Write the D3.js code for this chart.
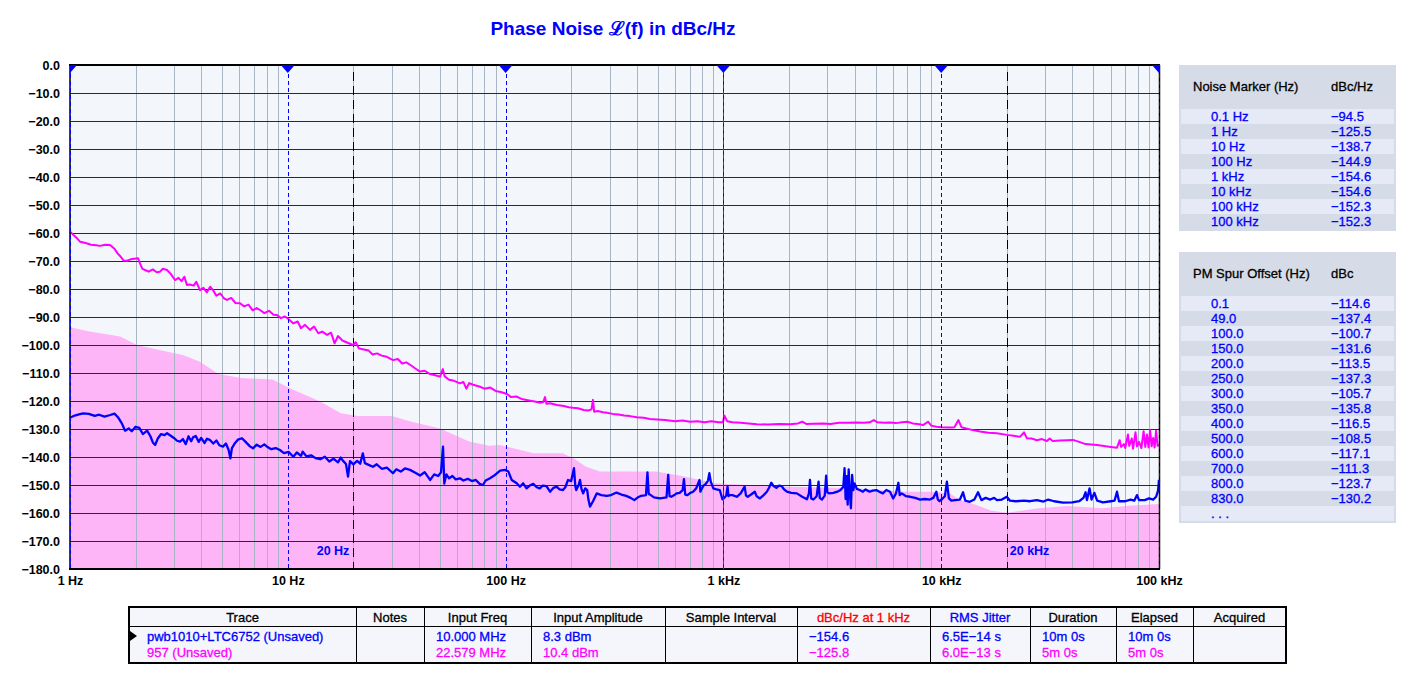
<!DOCTYPE html>
<html><head><meta charset="utf-8">
<script src="https://cdn.jsdelivr.net/npm/d3@7"></script>
<style>
body{margin:0;background:#fff;}
svg{display:block;font-family:"Liberation Sans",Arial,sans-serif;}
</style></head>
<body><svg id="c" width="1415" height="675"></svg>
<script>
// ---------- DATA ----------
const titleText = "Phase Noise \u2112(f) in dBc/Hz";
const xTickValues = [1, 10, 100, 1000, 10000, 100000];
const xTickLabels = ["1 Hz", "10 Hz", "100 Hz", "1 kHz", "10 kHz", "100 kHz"];
const yTickValues = [0, -10, -20, -30, -40, -50, -60, -70, -80, -90, -100, -110, -120, -130, -140, -150, -160, -170, -180];
const markerFreqs = [1, 10, 100, 1000, 10000, 100000];
const refFreqs = [20, 20000];
const refLabels = ["20 Hz", "20 kHz"];

// blue trace: pwb1010+LTC6752 [Hz, dBc/Hz]
const blueTrace = [
[1,-126],[1.05,-125.2],[1.1,-124.8],[1.15,-124.4],[1.22,-124.6],[1.3,-125.3],[1.36,-124.9],[1.44,-125.6],[1.53,-125],[1.6,-124.5],[1.66,-125.8],[1.73,-128],[1.79,-130.6],[1.86,-129.8],[1.92,-130.8],[2.0,-129.2],[2.08,-129.6],[2.16,-131.8],[2.26,-130.6],[2.34,-132.6],[2.4,-134.8],[2.46,-135.7],[2.53,-133.4],[2.62,-131.8],[2.72,-132.2],[2.79,-131.5],[2.9,-132.4],[3.0,-133.2],[3.1,-134.2],[3.2,-134.5],[3.3,-133.6],[3.4,-135.4],[3.5,-132.6],[3.6,-134.4],[3.67,-133],[3.78,-132.5],[3.9,-134.6],[4.0,-133.2],[4.15,-135],[4.25,-133.5],[4.39,-133.9],[4.55,-135.2],[4.7,-134.1],[4.85,-135.8],[5.04,-136.3],[5.2,-135.2],[5.35,-137.5],[5.45,-140.5],[5.54,-136.8],[5.7,-135.2],[5.9,-133.8],[6.16,-133.3],[6.4,-134.6],[6.7,-136.2],[6.92,-136.9],[7.2,-135.6],[7.5,-136.4],[7.8,-135.5],[8.03,-136.3],[8.4,-137.2],[8.8,-136.8],[9.2,-137.5],[9.6,-138.6],[10.1,-138.2],[10.6,-139.9],[11.0,-138.4],[11.5,-139.6],[11.7,-138.1],[12.2,-139.8],[12.8,-139.4],[13.4,-140.4],[14.1,-140.8],[14.8,-139.9],[15.5,-141.6],[16.2,-140.6],[17.0,-141.9],[17.5,-140.2],[17.9,-141.3],[18.5,-142.5],[18.9,-147],[19.3,-141.5],[20.0,-142.6],[20.8,-141.4],[21.5,-142.4],[22.1,-138.7],[22.6,-142.2],[23.5,-142.8],[24.6,-143.5],[25.6,-142.6],[27,-144.2],[28.5,-143.8],[30.4,-145.8],[31.5,-144.4],[33,-145.2],[34.5,-144.1],[36.4,-144.6],[38.5,-145.6],[40.5,-146.6],[42.5,-145.4],[45,-148.2],[47,-146.2],[49,-146.8],[50.5,-145.5],[51.6,-136.3],[52.3,-149.5],[53.5,-146.2],[55,-147.6],[57,-146.8],[59,-148],[61.7,-147.6],[64,-148.4],[67,-147.8],[70,-148.6],[73,-148.2],[76,-149.6],[78.7,-150],[81,-148.4],[84.8,-147.6],[88,-146.8],[92,-145.6],[94.4,-144.9],[99.3,-144.6],[103,-145.2],[106.7,-148.2],[112.5,-149.4],[116.4,-150.6],[120.4,-149.4],[124.8,-151.2],[129,-150.2],[134,-149.6],[139,-150.8],[143.5,-151.2],[148,-150.2],[154,-150.4],[160,-152.4],[166,-151],[171.6,-150.6],[177,-151.6],[183.4,-151.8],[188,-150.8],[193.5,-148.2],[200,-148.6],[206,-144],[209,-150.4],[211,-151.8],[216,-150.2],[219.6,-148.2],[223,-151.4],[227,-153],[232,-151.2],[237,-151.8],[240,-155.2],[244,-157.7],[252,-155.8],[262,-153],[275,-153.6],[291.6,-153.9],[305,-153.6],[323,-152.7],[340,-153.4],[358,-153.9],[375,-154.6],[390,-155.4],[405,-154.4],[418,-153.9],[435,-153.7],[441,-153.6],[448,-145.5],[454,-153.2],[464,-153.6],[480,-154.4],[511,-154.8],[530,-154.6],[548,-154.4],[558,-146.4],[566,-154],[577,-154.2],[595,-153.6],[610,-153],[630,-152.8],[650,-151.8],[659,-147.9],[668,-153.4],[684,-153.6],[705,-152.8],[726,-152.4],[750,-151.2],[777,-148.2],[784,-152.4],[790,-151.8],[811,-150.2],[830,-149.6],[850,-148.4],[862,-145.8],[875,-148.8],[899,-151.2],[930,-151.6],[962,-151.8],[990,-155.1],[1010,-154.6],[1030,-153.8],[1045,-150.6],[1055,-154],[1065,-153.6],[1100,-153.6],[1152,-154.2],[1200,-153],[1252,-150.6],[1270,-153.8],[1293,-154.2],[1340,-153.4],[1394,-152.4],[1420,-154],[1472,-154.8],[1530,-153.6],[1583,-152.4],[1620,-151],[1659,-149.2],[1700,-150.4],[1750,-151],[1800,-150.2],[1852,-150.4],[1900,-151.6],[1956,-152.4],[2050,-152.8],[2175,-153],[2300,-154.2],[2419,-155.1],[2470,-153],[2498,-148.2],[2530,-154.8],[2588,-155.2],[2680,-154],[2735,-148.8],[2770,-154.6],[2834,-155.2],[2920,-153.8],[2963,-146.7],[3000,-152.6],[3050,-153],[3200,-152.8],[3336,-152.4],[3450,-151.8],[3553,-150.6],[3600,-144],[3640,-155],[3680,-146.8],[3720,-157],[3760,-144.4],[3800,-152],[3850,-158.3],[3900,-146.4],[3950,-151.8],[4000,-149.4],[4100,-151.4],[4219,-151.8],[4370,-152.4],[4500,-151.6],[4687,-152.4],[4850,-152],[5034,-151.8],[5200,-152.4],[5395,-153],[5600,-151.8],[5821,-152.4],[6019,-154.8],[6200,-153],[6360,-149.2],[6450,-153.6],[6590,-153],[6900,-154],[7200,-154.2],[7600,-154.6],[8000,-155.2],[8400,-155],[8860,-155.2],[9200,-154.6],[9500,-152.4],[9650,-155.2],[9820,-155.8],[10100,-155],[10400,-154],[10620,-148.8],[10850,-154.8],[11130,-155.6],[11600,-155.4],[12190,-155.2],[12600,-152.6],[12900,-155.6],[13520,-156],[14200,-155.2],[14760,-152.6],[15300,-155.4],[16000,-154.6],[16800,-155.2],[17500,-154.6],[18040,-155.4],[19000,-155.2],[20000,-154.2],[20700,-155.6],[22000,-155.8],[24000,-155.6],[25580,-155.8],[27500,-155.4],[29500,-155.9],[31000,-155.2],[33000,-155.8],[36240,-156.3],[40000,-156.2],[43000,-155.8],[45000,-154.6],[46000,-152.6],[46700,-155.4],[48000,-151.2],[49000,-155.2],[50500,-152.8],[52000,-155.6],[55300,-156.2],[60000,-155.8],[62500,-155.6],[64130,-152.4],[65500,-155.8],[70000,-155.8],[74000,-155.2],[77000,-155.6],[79250,-153.6],[81000,-155.4],[86000,-155.4],[90000,-154.8],[94000,-155.2],[97000,-154.2],[99000,-152],[100000,-148.2]
];

// magenta trace: 957 [Hz, dBc/Hz]
const magentaTrace = [
[1,-59.5],[1.04,-60.8],[1.08,-62],[1.112,-63.1],[1.18,-63.6],[1.25,-64.2],[1.32,-64.4],[1.373,-64.6],[1.45,-64.2],[1.527,-64.3],[1.6,-65.6],[1.65,-67.2],[1.697,-68.2],[1.76,-69.8],[1.827,-69.9],[1.9,-69.4],[1.98,-69.2],[2.052,-69],[2.1,-71],[2.15,-72.8],[2.21,-73.2],[2.3,-73.8],[2.4,-73],[2.5,-74],[2.589,-73.8],[2.67,-72.8],[2.79,-73.2],[2.9,-74.6],[3.034,-76.8],[3.15,-76],[3.25,-77.2],[3.35,-75.6],[3.444,-78.6],[3.55,-78.4],[3.7,-78.8],[3.8,-77.4],[3.953,-80.4],[4.1,-79.6],[4.25,-81.2],[4.4,-79.2],[4.535,-80.4],[4.7,-82.4],[4.9,-81.6],[5.1,-83.4],[5.259,-83.9],[5.5,-83.2],[5.75,-85],[6.033,-85.1],[6.3,-86.2],[6.6,-85.6],[6.9,-87.6],[7.2,-86.8],[7.455,-87.5],[7.8,-88.6],[8.2,-87.8],[8.6,-89.2],[8.92,-89.3],[9.3,-90.4],[9.7,-89.8],[10.1,-90.8],[10.6,-92.3],[11.1,-91.6],[11.5,-94],[12,-92.8],[12.64,-94.6],[13.2,-93.4],[13.8,-95.8],[14.4,-95.2],[15.14,-96.4],[15.8,-95.6],[16.4,-99.4],[17,-96.8],[17.8,-98.4],[18.8,-99.2],[19.93,-100],[20.5,-99],[21.2,-101.2],[22.3,-101.6],[23.5,-102],[24.5,-103.4],[25.68,-103],[27,-103.8],[28.5,-104.2],[30.4,-105.4],[32,-105],[33.5,-106.6],[35,-106.2],[37,-107.4],[38.5,-108.4],[40.45,-109.5],[42.5,-109.2],[45,-110.4],[47.5,-110.8],[50,-111.3],[51.5,-108.6],[52.5,-111.2],[55,-112.4],[58,-112.8],[61.7,-113.7],[64,-113.2],[66,-115.6],[68,-113.6],[71,-114.2],[76.3,-114.9],[80,-115.6],[85,-115.2],[90,-116.4],[95,-116.8],[101.5,-117.5],[106,-118.6],[112,-118.4],[116.4,-119],[120.2,-119.4],[128,-119.8],[136,-120.2],[144,-120.6],[149,-120.4],[151.6,-118.6],[154,-121],[160,-120.8],[172.1,-121.4],[185,-121.8],[195,-122.2],[203.8,-122.4],[215,-122.6],[228,-123.2],[240,-123.4],[248,-123],[251.9,-119.6],[255,-123.8],[265,-123.6],[280,-124],[292.2,-124.2],[310,-124.6],[330,-124.8],[350,-125.2],[372.6,-125.4],[400,-125.8],[430,-126],[460,-126.4],[495.5,-126.6],[540,-126.8],[600,-127.2],[650,-127],[702.5,-127.4],[760,-127.2],[820,-127.6],[880,-127.2],[950,-127.6],[995.8,-127.6],[1010,-125.2],[1040,-127.2],[1100,-127.6],[1200,-127.8],[1300,-128],[1426,-128.3],[1600,-128.4],[1800,-128.2],[2022,-128.3],[2200,-128],[2300,-127.4],[2400,-128.2],[2600,-128.1],[2866,-128],[3100,-128.2],[3400,-127.8],[3700,-127.8],[4107,-127.7],[4400,-127.8],[4700,-127.6],[4900,-126.8],[5100,-127.6],[5500,-127.8],[5821,-127.7],[6200,-127.9],[6600,-127.6],[7000,-127.4],[7400,-128],[7800,-128.2],[8249,-128.6],[8700,-127.4],[9000,-128.8],[9500,-129.2],[10000,-129.4],[10970,-129.5],[11500,-129.4],[12000,-126.8],[12400,-129.4],[13000,-129.8],[14000,-130.4],[15070,-130.9],[16500,-131.3],[18000,-131.5],[20030,-132.1],[21500,-132.4],[23000,-132.8],[24000,-131.2],[24760,-133.3],[26000,-133.4],[27500,-134],[29000,-133.6],[30600,-134.3],[31500,-133.4],[32500,-134.3],[35000,-134.1],[38000,-134],[40270,-133.9],[43000,-134.6],[46000,-135.4],[51920,-135.7],[57000,-136.2],[60000,-136.4],[64130,-136.7],[66000,-134],[67000,-136.4],[69000,-135.4],[70000,-136.8],[72000,-132],[73000,-136],[75000,-133.4],[76000,-137],[78000,-131.2],[79250,-136.2],[81000,-134.6],[83000,-136.8],[85000,-130.8],[86500,-136.4],[88000,-132],[89500,-136.6],[91000,-130.4],[92500,-136.2],[94000,-133.2],[95500,-136.6],[97000,-130.6],[98500,-136],[100000,-135.7]
];

// pink shaded region upper edge [Hz, dBc/Hz]
const shadeEdge = [
[1,-93.7],[1.23,-95.2],[1.7,-97],[2.03,-100],[2.8,-102.4],[3.3,-103.6],[3.95,-106],[4.4,-108.4],[4.8,-110.4],[6.1,-111.8],[8.5,-112.3],[10.6,-116],[14.1,-120.2],[17.5,-124.4],[21,-125.4],[30,-125.4],[37,-127.4],[50,-129.8],[68,-134.5],[84,-136],[94,-135.7],[116,-137.4],[134,-138.7],[183,-138.7],[206,-140.5],[234,-143.5],[271,-145.2],[490,-145.2],[610,-146.4],[790,-148.2],[900,-149.4],[1300,-150],[2000,-150.6],[4000,-151.2],[6800,-152.4],[9000,-152.4],[10970,-153],[12190,-155.4],[14500,-157.1],[17000,-159.2],[20000,-159.9],[28000,-158.3],[38000,-157.5],[55000,-158.3],[70000,-157.5],[100000,-156.8]
];

// right-hand tables
const noiseMarkerLabels = ["0.1 Hz","1 Hz","10 Hz","100 Hz","1 kHz","10 kHz","100 kHz","100 kHz"];
const noiseMarkerValues = ["\u221294.5","\u2212125.5","\u2212138.7","\u2212144.9","\u2212154.6","\u2212154.6","\u2212152.3","\u2212152.3"];
const spurOffsets = ["0.1","49.0","100.0","150.0","200.0","250.0","300.0","350.0","400.0","500.0","600.0","700.0","800.0","830.0",". . ."];
const spurValues = ["\u2212114.6","\u2212137.4","\u2212100.7","\u2212131.6","\u2212113.5","\u2212137.3","\u2212105.7","\u2212135.8","\u2212116.5","\u2212108.5","\u2212117.1","\u2212111.3","\u2212123.7","\u2212130.2",""];

// bottom table
const tableHeaders = ["Trace","Notes","Input Freq","Input Amplitude","Sample Interval","dBc/Hz at 1 kHz","RMS Jitter","Duration","Elapsed","Acquired"];
const headerColors = ["#000","#000","#000","#000","#000","#ff0000","#0000ff","#000","#000","#000"];
const tableRows = [
  ["pwb1010+LTC6752 (Unsaved)","","10.000 MHz","8.3 dBm","","\u2212154.6","6.5E\u221214 s","10m 0s","10m 0s",""],
  ["957 (Unsaved)","","22.579 MHz","10.4 dBm","","\u2212125.8","6.0E\u221213 s","5m 0s","5m 0s",""]
];
const rowColors = ["#0000ff", "#ff00ff"];

// ---------- CHART ----------
const svg = d3.select("#c");
const L = 70, R = 1159, T = 65, B = 569;
const x = d3.scaleLog().domain([1, 100000]).range([L, R]);
const y = d3.scaleLinear().domain([0, -180]).range([T, B]);
const fmtMinus = s => s.replace("-", "\u2212");
const TXT = 13;
function heavy(sel, color) { return sel.attr("fill", color).attr("stroke", color).attr("stroke-width", 0.3); }

svg.append("text").attr("x", 613).attr("y", 35).attr("text-anchor", "middle")
  .attr("fill", "#0000ff").attr("font-size", 19).attr("font-weight", "bold").text(titleText);

// plot background
svg.append("rect").attr("x", L).attr("y", T).attr("width", R - L).attr("height", B - T).attr("fill", "#f3f6fb");

// shaded area
svg.append("path").datum(shadeEdge)
  .attr("d", d3.area().x(d => x(d[0])).y0(y(-180)).y1(d => y(d[1])))
  .attr("fill", "#fdb5f8");

// vertical minor grid
const minor = [];
for (let dec = 1; dec < 100000; dec *= 10) for (let m = 2; m <= 9; m++) minor.push(dec * m);
svg.append("g").selectAll("line").data(minor).join("line")
  .attr("x1", d => Math.round(x(d)) + 0.5).attr("x2", d => Math.round(x(d)) + 0.5)
  .attr("y1", T).attr("y2", B).attr("stroke", "#a9b4c4").attr("stroke-width", 1);

// horizontal grid
svg.append("g").selectAll("line").data(yTickValues.filter(v => v < 0 && v > -180)).join("line")
  .attr("x1", L).attr("x2", R).attr("y1", d => Math.round(y(d)) + 0.5).attr("y2", d => Math.round(y(d)) + 0.5)
  .attr("stroke", "#2a2a2a").attr("stroke-width", 1);

// reference (20 Hz / 20 kHz) dashed black lines
svg.append("g").selectAll("line").data(refFreqs).join("line")
  .attr("x1", d => Math.round(x(d)) + 0.5).attr("x2", d => Math.round(x(d)) + 0.5)
  .attr("y1", T + 7).attr("y2", B).attr("stroke", "#000").attr("stroke-width", 1)
  .attr("stroke-dasharray", "9,5");
svg.append("g").selectAll("text").data(refFreqs).join("text")
  .attr("x", (d, i) => i === 0 ? x(d) - 4 : x(d) + 3)
  .attr("y", 555).attr("text-anchor", (d, i) => i === 0 ? "end" : "start")
  .attr("fill", "#0000ff").attr("font-size", 12.5).attr("font-weight", "bold")
  .text((d, i) => refLabels[i]);

// traces
const line = d3.line().x(d => x(d[0])).y(d => y(d[1]));
svg.append("path").datum(magentaTrace).attr("d", line).attr("fill", "none")
  .attr("stroke", "#ff00ff").attr("stroke-width", 2).attr("stroke-linejoin", "round");
svg.append("path").datum(blueTrace).attr("d", line).attr("fill", "none")
  .attr("stroke", "#0000ff").attr("stroke-width", 2.3).attr("stroke-linejoin", "round");

// frame
svg.append("line").attr("x1", L).attr("x2", L).attr("y1", T).attr("y2", B).attr("stroke", "#000").attr("stroke-width", 1.5);
svg.append("line").attr("x1", R + 0.5).attr("x2", R + 0.5).attr("y1", T).attr("y2", B).attr("stroke", "#000").attr("stroke-width", 1.5);
svg.append("line").attr("x1", L - 1).attr("x2", R + 1).attr("y1", T).attr("y2", T).attr("stroke", "#000").attr("stroke-width", 2);
svg.append("line").attr("x1", L - 1).attr("x2", R + 1).attr("y1", B).attr("y2", B).attr("stroke", "#000").attr("stroke-width", 2);

// marker lines
const mk = svg.append("g");
markerFreqs.forEach(f => {
  const xx = Math.round(x(f)) + 0.5;
  mk.append("line").attr("x1", xx).attr("x2", xx).attr("y1", T + 2).attr("y2", B)
    .attr("stroke", "#0000ff").attr("stroke-width", 1).attr("stroke-dasharray", "4,3");
  if (f === 1000) {
    mk.append("line").attr("x1", xx).attr("x2", xx).attr("y1", T + 2).attr("y2", B)
      .attr("stroke", "#ff0000").attr("stroke-width", 1).attr("stroke-dasharray", "4,3").attr("stroke-dashoffset", 3.5);
  }
});
// marker triangles (clipped to plot)
svg.append("clipPath").attr("id", "pc").append("rect").attr("x", L).attr("y", T - 2).attr("width", R - L + 1).attr("height", 20);
svg.append("g").attr("clip-path", "url(#pc)").selectAll("path").data(markerFreqs).join("path")
  .attr("d", d => { const xx = x(d); return `M${xx - 7},${T}L${xx + 7},${T}L${xx},${T + 8}Z`; })
  .attr("fill", "#0000ff");

// axes
const yAxis = d3.axisLeft(y).tickValues(yTickValues).tickSize(0).tickPadding(0)
  .tickFormat(d => fmtMinus(d3.format(".1f")(d)));
const gy = svg.append("g").attr("transform", `translate(${L - 10},0)`).call(yAxis);
gy.select(".domain").remove();
gy.selectAll("text").attr("font-size", 12.5).attr("font-weight", "bold").attr("fill", "#000")
  .attr("font-family", "Liberation Sans, Arial, sans-serif");

const xAxis = d3.axisBottom(x).tickValues(xTickValues).tickSize(0).tickPadding(0)
  .tickFormat((d, i) => xTickLabels[i]);
const gx = svg.append("g").attr("transform", `translate(0,${B + 7})`).call(xAxis);
gx.select(".domain").remove();
gx.selectAll("text").attr("font-size", 12.5).attr("font-weight", "bold").attr("fill", "#000")
  .attr("font-family", "Liberation Sans, Arial, sans-serif");

// ---------- RIGHT TABLES ----------
function sideTable(top, height, h1, h2, labels, values) {
  const g = svg.append("g");
  g.append("rect").attr("x", 1179).attr("y", top).attr("width", 217).attr("height", height).attr("fill", "#d6dce7");
  heavy(g.append("text").attr("x", 1193).attr("y", top + 26).attr("font-size", TXT).text(h1), "#000");
  heavy(g.append("text").attr("x", 1331).attr("y", top + 26).attr("font-size", TXT).text(h2), "#000");
  const r0 = top + 44;
  labels.forEach((lab, i) => {
    if (i % 2 === 0) g.append("rect").attr("x", 1181).attr("y", r0 + i * 15).attr("width", 213).attr("height", 15).attr("fill", "#e5eaf6");
    heavy(g.append("text").attr("x", 1211).attr("y", r0 + i * 15 + 12).attr("font-size", TXT).text(lab), "#0000ff");
    heavy(g.append("text").attr("x", 1331).attr("y", r0 + i * 15 + 12).attr("font-size", TXT).text(values[i]), "#0000ff");
  });
}
sideTable(65, 166, "Noise Marker (Hz)", "dBc/Hz", noiseMarkerLabels, noiseMarkerValues);
sideTable(252, 271, "PM Spur Offset (Hz)", "dBc", spurOffsets, spurValues);

// ---------- BOTTOM TABLE ----------
const colX = [129, 356, 424, 531, 665, 797, 930, 1030, 1116, 1193, 1286];
const tT = 607, tH = 626, tB = 663;
const bt = svg.append("g");
bt.append("rect").attr("x", colX[0]).attr("y", tT).attr("width", colX[10] - colX[0]).attr("height", tB - tT).attr("fill", "#f4f6fb");
colX.slice(1, 10).forEach(cx => bt.append("line").attr("x1", cx + 0.5).attr("x2", cx + 0.5).attr("y1", tT).attr("y2", tB).attr("stroke", "#000").attr("stroke-width", 1));
bt.append("line").attr("x1", colX[0]).attr("x2", colX[10]).attr("y1", tH + 0.5).attr("y2", tH + 0.5).attr("stroke", "#000").attr("stroke-width", 1);
bt.append("rect").attr("x", colX[0]).attr("y", tT).attr("width", colX[10] - colX[0]).attr("height", tB - tT)
  .attr("fill", "none").attr("stroke", "#000").attr("stroke-width", 2);
tableHeaders.forEach((h, i) => {
  heavy(bt.append("text").attr("x", (colX[i] + colX[i + 1]) / 2).attr("y", tT + 15).attr("text-anchor", "middle")
    .attr("font-size", TXT).text(h), headerColors[i]);
});
tableRows.forEach((row, r) => {
  row.forEach((v, i) => {
    if (!v) return;
    const pad = i === 0 ? 18 : 12;
    heavy(bt.append("text").attr("x", colX[i] + pad).attr("y", tH + 15 + r * 16).attr("font-size", TXT).text(v), rowColors[r]);
  });
});
bt.append("path").attr("d", `M130,631L137,636L130,641Z`).attr("fill", "#000");
</script></body></html>
